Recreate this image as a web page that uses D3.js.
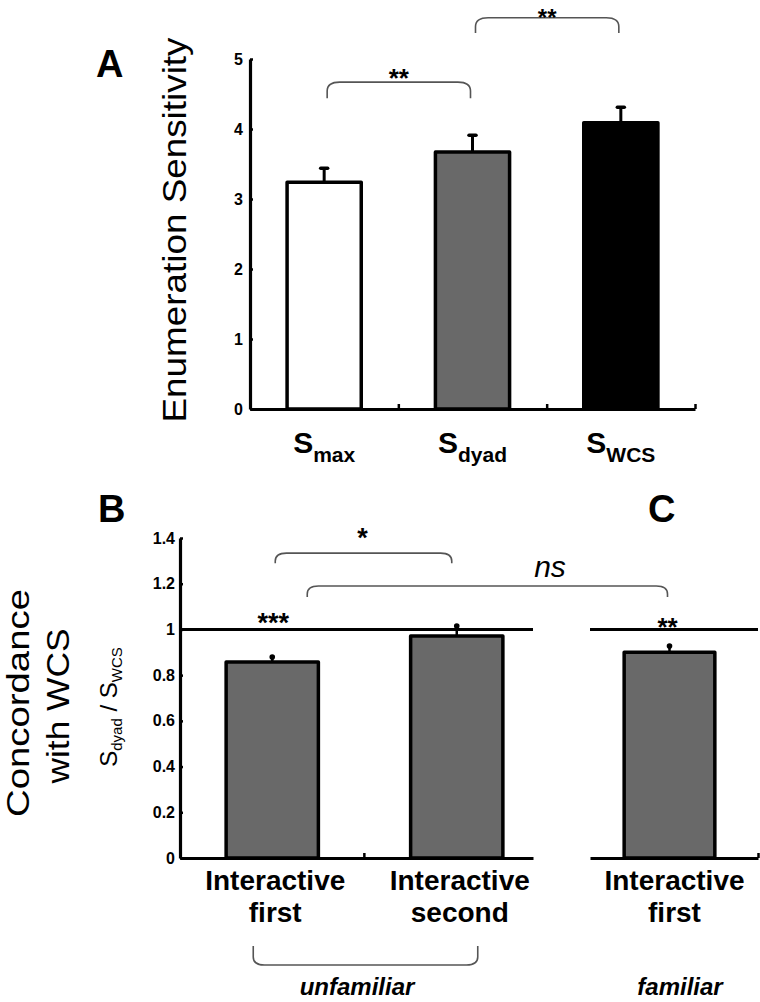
<!DOCTYPE html>
<html>
<head>
<meta charset="utf-8">
<script src="https://cdn.jsdelivr.net/npm/d3@7"></script>
<style>
  html, body { margin: 0; padding: 0; background: #fff; }
  svg { display: block; }
  text { font-family: "Liberation Sans", Arial, Helvetica, sans-serif; fill: #000; }
</style>
</head>
<body>
<svg id="chart" width="760" height="1002"></svg>
<script>
// ---------------- DATA ----------------
// Panel A
const topCategories = ["max", "dyad", "WCS"];        // subscripts of S
const topValues     = [3.24, 3.67, 4.09];
const topErrors     = [0.20, 0.24, 0.22];
const topTicks      = [0, 1, 2, 3, 4, 5];

// Panel B (unfamiliar)
const bCategories = ["first", "second"];
const bValues     = [0.857, 0.971];
const bErrors     = [0.022, 0.044];

// Panel C (familiar)
const cCategories = ["first"];
const cValues     = [0.90];
const cErrors     = [0.027];

const bottomTicks = [0, 0.2, 0.4, 0.6, 0.8, 1, 1.2, 1.4];

// significance annotations (value units)
const topSig = [
  {from: 0, to: 1, level: 4.67, drop: 0.23, label: "**"},
  {from: 1, to: 2, level: 5.59, drop: 0.22, label: "**"}
];

// ---------------- DRAW ----------------
const svg = d3.select("#chart");
const FONT = '"Liberation Sans", Arial, Helvetica, sans-serif';
const topFills = ["#ffffff", "#696969", "#000000"];
const GRAY = "#696969";

function bracket(g, x1, x2, yTop, yEnd, r) {
  const p = d3.path();
  p.moveTo(x1, yEnd);
  p.lineTo(x1, yTop + r);
  p.quadraticCurveTo(x1, yTop, x1 + r * 1.4, yTop);
  p.lineTo(x2 - r * 1.4, yTop);
  p.quadraticCurveTo(x2, yTop, x2, yTop + r);
  p.lineTo(x2, yEnd);
  g.append("path").attr("d", p.toString())
    .attr("fill", "none").attr("stroke", "#555").attr("stroke-width", 1.6);
}
function bracketDown(g, x1, x2, yTop, yBottom, r) {
  const p = d3.path();
  p.moveTo(x1, yTop);
  p.lineTo(x1, yBottom - r);
  p.quadraticCurveTo(x1, yBottom, x1 + r * 1.4, yBottom);
  p.lineTo(x2 - r * 1.4, yBottom);
  p.quadraticCurveTo(x2, yBottom, x2, yBottom - r);
  p.lineTo(x2, yTop);
  g.append("path").attr("d", p.toString())
    .attr("fill", "none").attr("stroke", "#555").attr("stroke-width", 1.6);
}

// ===== Panel A =====
const gA = svg.append("g");
const yA = d3.scaleLinear().domain([0, 5]).range([409, 59]);
const xA = d3.scaleBand().domain(topCategories).range([250, 695]).paddingInner(0.5).paddingOuter(0.25);
const xAb = d3.scaleLinear().domain([0, topCategories.length]).range([250, 695]);

// y axis
const yAxisA = gA.append("g").attr("transform", "translate(250,0)")
  .call(d3.axisLeft(yA).tickValues(topTicks).tickFormat(d3.format("d"))
    .tickSizeInner(-3).tickSizeOuter(0).tickPadding(7));
// x axis (boundary ticks)
const xAxisA = gA.append("g").attr("transform", "translate(0,409)")
  .call(d3.axisBottom(xAb).tickValues([1, 2, 3]).tickFormat("")
    .tickSizeInner(-5).tickSizeOuter(0));
[yAxisA, xAxisA].forEach(ax => {
  ax.select(".domain").attr("stroke", "#000").attr("stroke-width", 3.2);
  ax.selectAll(".tick line").attr("stroke", "#000").attr("stroke-width", 2.5);
  ax.selectAll(".tick text").attr("font-family", FONT).attr("font-size", 16)
    .attr("font-weight", "bold").attr("fill", "#000");
});

// bars
gA.selectAll("rect.bar").data(topValues).enter().append("rect")
  .attr("x", (d, i) => xA(topCategories[i]))
  .attr("width", xA.bandwidth())
  .attr("y", d => yA(d))
  .attr("height", d => yA(0) - yA(d))
  .attr("fill", (d, i) => topFills[i])
  .attr("stroke", "#000").attr("stroke-width", 3.5).attr("stroke-linejoin", "round");
// error bars
topValues.forEach((v, i) => {
  const cx = xA(topCategories[i]) + xA.bandwidth() / 2;
  gA.append("line").attr("x1", cx).attr("x2", cx).attr("y1", yA(v)).attr("y2", yA(v + topErrors[i]))
    .attr("stroke", "#000").attr("stroke-width", 3);
  gA.append("line").attr("x1", cx - 3.5).attr("x2", cx + 3.5).attr("y1", yA(v + topErrors[i])).attr("y2", yA(v + topErrors[i]))
    .attr("stroke", "#000").attr("stroke-width", 3.5).attr("stroke-linecap", "round");
});
// x labels S_sub
topCategories.forEach((c, i) => {
  const cx = xA(c) + xA.bandwidth() / 2;
  const t = gA.append("text").attr("x", cx).attr("y", 453).attr("text-anchor", "middle")
    .attr("font-weight", "bold").attr("font-size", 30);
  t.append("tspan").text("S");
  t.append("tspan").attr("font-size", 21).attr("dy", 9).text(c);
});
// significance
topSig.forEach((s, k) => {
  const x1 = xA(topCategories[s.from]) + xA.bandwidth() / 2 + 3;
  const x2 = xA(topCategories[s.to]) + xA.bandwidth() / 2 - 2;
  bracket(gA, x1, x2, yA(s.level), yA(s.level - s.drop), 9);
  gA.append("text").attr("x", (x1 + x2) / 2).attr("y", yA(s.level) + (k === 1 ? 8 : 5))
    .attr("text-anchor", "middle").attr("font-size", k === 1 ? 24 : 26).attr("font-weight", "bold").text(s.label);
});
// y title
gA.append("text").attr("transform", "translate(186,230) rotate(-90)")
  .attr("text-anchor", "middle").attr("font-size", 34)
  .attr("textLength", 385).attr("lengthAdjust", "spacingAndGlyphs")
  .text("Enumeration Sensitivity");
// panel letter
gA.append("text").attr("x", 96).attr("y", 77).attr("font-size", 38).attr("font-weight", "bold").text("A");

// ===== Panel B & C =====
const gB = svg.append("g");
const yB = d3.scaleLinear().domain([0, 1.4]).range([858, 538]);
const xB = d3.scaleBand().domain(bCategories).range([180, 549]).paddingInner(0.5).paddingOuter(0.25);
const xC = d3.scaleBand().domain(cCategories).range([577, 762]).paddingInner(0.5).paddingOuter(0.26);

const yAxisB = gB.append("g").attr("transform", "translate(180,0)")
  .call(d3.axisLeft(yB).tickValues(bottomTicks)
    .tickFormat(d => (d === 0 || d === 1) ? d3.format("d")(d) : d3.format(".1f")(d))
    .tickSizeInner(-3).tickSizeOuter(0).tickPadding(5));
yAxisB.select(".domain").attr("stroke", "#000").attr("stroke-width", 3.2);
yAxisB.selectAll(".tick line").attr("stroke", "#000").attr("stroke-width", 2.5);
yAxisB.selectAll(".tick text").attr("font-family", FONT).attr("font-size", 16)
  .attr("font-weight", "bold").attr("fill", "#000");

// x axis lines
const xAxisB = d3.scaleLinear().domain([0, 1.92]).range([180, 533]);
const xbAx = gB.append("g").attr("transform", "translate(0,858)")
  .call(d3.axisBottom(xAxisB).tickValues([1]).tickFormat("").tickSizeInner(-5).tickSizeOuter(0));
const xAxisC = d3.scaleLinear().domain([0, 1]).range([590, 758]);
const xcAx = gB.append("g").attr("transform", "translate(0,858)")
  .call(d3.axisBottom(xAxisC).tickValues([1]).tickFormat("").tickSizeInner(-5).tickSizeOuter(0));
[xbAx, xcAx].forEach(ax => {
  ax.select(".domain").attr("stroke", "#000").attr("stroke-width", 3.2);
  ax.selectAll(".tick line").attr("stroke", "#000").attr("stroke-width", 2.5);
});

// reference lines at 1
[[180, 533], [590, 758]].forEach(([a, b]) => {
  gB.append("line").attr("x1", a).attr("x2", b).attr("y1", yB(1)).attr("y2", yB(1))
    .attr("stroke", "#000").attr("stroke-width", 3);
});

function drawBars(g, xs, cats, vals, errs) {
  g.selectAll(null).data(vals).enter().append("rect")
    .attr("x", (d, i) => xs(cats[i]))
    .attr("width", xs.bandwidth())
    .attr("y", d => yB(d))
    .attr("height", d => yB(0) - yB(d))
    .attr("fill", GRAY)
    .attr("stroke", "#000").attr("stroke-width", 3.5).attr("stroke-linejoin", "round");
  vals.forEach((v, i) => {
    const cx = xs(cats[i]) + xs.bandwidth() / 2;
    g.append("line").attr("x1", cx).attr("x2", cx).attr("y1", yB(v)).attr("y2", yB(v + errs[i]))
      .attr("stroke", "#000").attr("stroke-width", 2.5);
    g.append("circle").attr("cx", cx).attr("cy", yB(v + errs[i])).attr("r", 2.8).attr("fill", "#000");
  });
}
drawBars(gB, xB, bCategories, bValues, bErrors);
drawBars(gB, xC, cCategories, cValues, cErrors);

// category labels
function catLabel(g, cx, second) {
  g.append("text").attr("x", cx).attr("y", 890).attr("text-anchor", "middle")
    .attr("font-size", 28).attr("font-weight", "bold").text("Interactive");
  g.append("text").attr("x", cx).attr("y", 922).attr("text-anchor", "middle")
    .attr("font-size", 28).attr("font-weight", "bold").text(second);
}
bCategories.forEach(c => catLabel(gB, xB(c) + xB.bandwidth() / 2 + 3, c));
cCategories.forEach(c => catLabel(gB, xC(c) + xC.bandwidth() / 2 + 5, c));

// significance stars above reference lines
const cxB0 = xB(bCategories[0]) + xB.bandwidth() / 2;
const cxB1 = xB(bCategories[1]) + xB.bandwidth() / 2;
const cxC0 = xC(cCategories[0]) + xC.bandwidth() / 2;
gB.append("text").attr("x", cxB0 + 1).attr("y", 632).attr("text-anchor", "middle").attr("font-size", 27).attr("font-weight", "bold").text("***");
gB.append("text").attr("x", cxC0 - 2).attr("y", 636).attr("text-anchor", "middle").attr("font-size", 26).attr("font-weight", "bold").text("**");

// "*" bracket between B bars
bracket(gB, cxB0 + 3, cxB1 - 5, yB(1.334), yB(1.29), 8);
gB.append("text").attr("x", (cxB0 + cxB1) / 2 - 2).attr("y", 547).attr("text-anchor", "middle").attr("font-size", 27).attr("font-weight", "bold").text("*");
// "ns" bracket
bracket(gB, cxB0 + 35, cxC0 - 2, yB(1.19), yB(1.142), 8);
gB.append("text").attr("x", 550).attr("y", 577).attr("text-anchor", "middle")
  .attr("font-size", 30).attr("font-style", "italic").text("ns");

// bottom bracket for unfamiliar
bracketDown(gB, cxB0 - 19, cxB1 + 21, 946, 965, 8);
gB.append("text").attr("x", 357).attr("y", 995).attr("text-anchor", "middle")
  .attr("font-size", 24).attr("font-weight", "bold").attr("font-style", "italic").text("unfamiliar");
gB.append("text").attr("x", 680).attr("y", 995).attr("text-anchor", "middle")
  .attr("font-size", 24).attr("font-weight", "bold").attr("font-style", "italic").text("familiar");

// y titles
gB.append("text").attr("transform", "translate(29,703) rotate(-90)")
  .attr("text-anchor", "middle").attr("font-size", 31)
  .attr("textLength", 228).attr("lengthAdjust", "spacingAndGlyphs").text("Concordance");
gB.append("text").attr("transform", "translate(69,706) rotate(-90)")
  .attr("text-anchor", "middle").attr("font-size", 32)
  .attr("textLength", 155).attr("lengthAdjust", "spacingAndGlyphs").text("with WCS");
const rt = gB.append("text").attr("transform", "translate(117,707) rotate(-90)")
  .attr("text-anchor", "middle").attr("font-size", 24);
rt.append("tspan").text("S");
rt.append("tspan").attr("font-size", 15).attr("dy", 5).text("dyad");
rt.append("tspan").attr("dy", -5).text(" / S");
rt.append("tspan").attr("font-size", 15).attr("dy", 5).text("WCS");

// panel letters
gB.append("text").attr("x", 98).attr("y", 522).attr("font-size", 38).attr("font-weight", "bold").text("B");
gB.append("text").attr("x", 648).attr("y", 522).attr("font-size", 38).attr("font-weight", "bold").text("C");
</script>
</body>
</html>
